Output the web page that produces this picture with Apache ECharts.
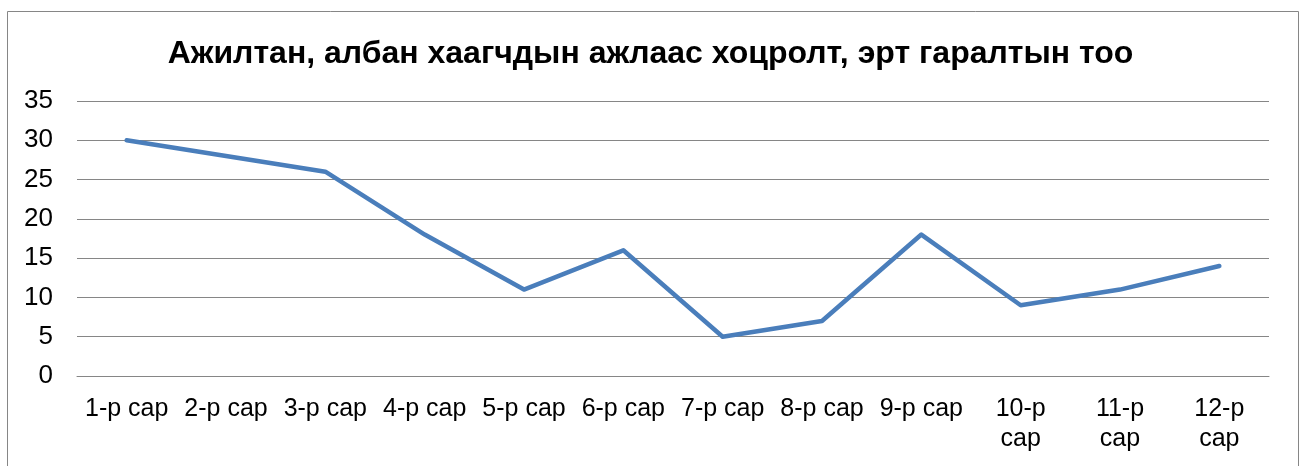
<!DOCTYPE html>
<html>
<head>
<meta charset="utf-8">
<script src="https://cdn.jsdelivr.net/npm/echarts@6/dist/echarts.min.js"></script>
<style>
html,body{margin:0;padding:0;background:#fff;}
#chart{width:1301px;height:466px;}
</style>
</head>
<body>
<div id="chart"></div>
<script>
const titleText = 'Ажилтан, албан хаагчдын ажлаас хоцролт, эрт гаралтын тоо';
const categories = ['1-р сар','2-р сар','3-р сар','4-р сар','5-р сар','6-р сар','7-р сар','8-р сар','9-р сар','10-р сар','11-р сар','12-р сар'];
const values = [30, 28, 26, 18, 11, 16, 5, 7, 18, 9, 11, 14];
const yMin = 0, yMax = 35, yStep = 5;

const chart = echarts.init(document.getElementById('chart'), null, {renderer: 'canvas'});
const font = 'Liberation Sans, Arial, sans-serif';
chart.setOption({
  animation: false,
  backgroundColor: '#fff',
  title: {
    text: titleText,
    left: 'center',
    top: 33,
    textStyle: {fontFamily: font, fontSize: 32, fontWeight: 'bold', color: '#000'}
  },
  graphic: [{
    type: 'rect',
    shape: {x: 7.5, y: 11.5, width: 1291, height: 470},
    style: {fill: 'none', stroke: '#868686', lineWidth: 1},
    silent: true
  }],
  grid: {left: 77, right: 32, top: 101, bottom: 90, containLabel: false},
  xAxis: {
    type: 'category',
    data: categories,
    boundaryGap: true,
    axisLine: {show: true, lineStyle: {color: '#868686', width: 1}},
    axisTick: {show: false},
    axisLabel: {
      interval: 0,
      margin: 18,
      fontFamily: font,
      fontSize: 25,
      color: '#000',
      lineHeight: 30,
      formatter: v => v.length > 7 ? v.replace(' ', '\n') : v
    }
  },
  yAxis: {
    type: 'value',
    min: yMin, max: yMax, interval: yStep,
    axisLine: {show: false},
    axisTick: {show: false},
    splitLine: {show: true, lineStyle: {color: '#868686', width: 1}},
    axisLabel: {margin: 24, fontFamily: font, fontSize: 26, color: '#000'}
  },
  series: [{
    type: 'line',
    data: values,
    showSymbol: false,
    symbol: 'none',
    lineStyle: {color: '#4A7EBB', width: 4.5, join: 'round', cap: 'round'}
  }]
});
</script>
</body>
</html>
